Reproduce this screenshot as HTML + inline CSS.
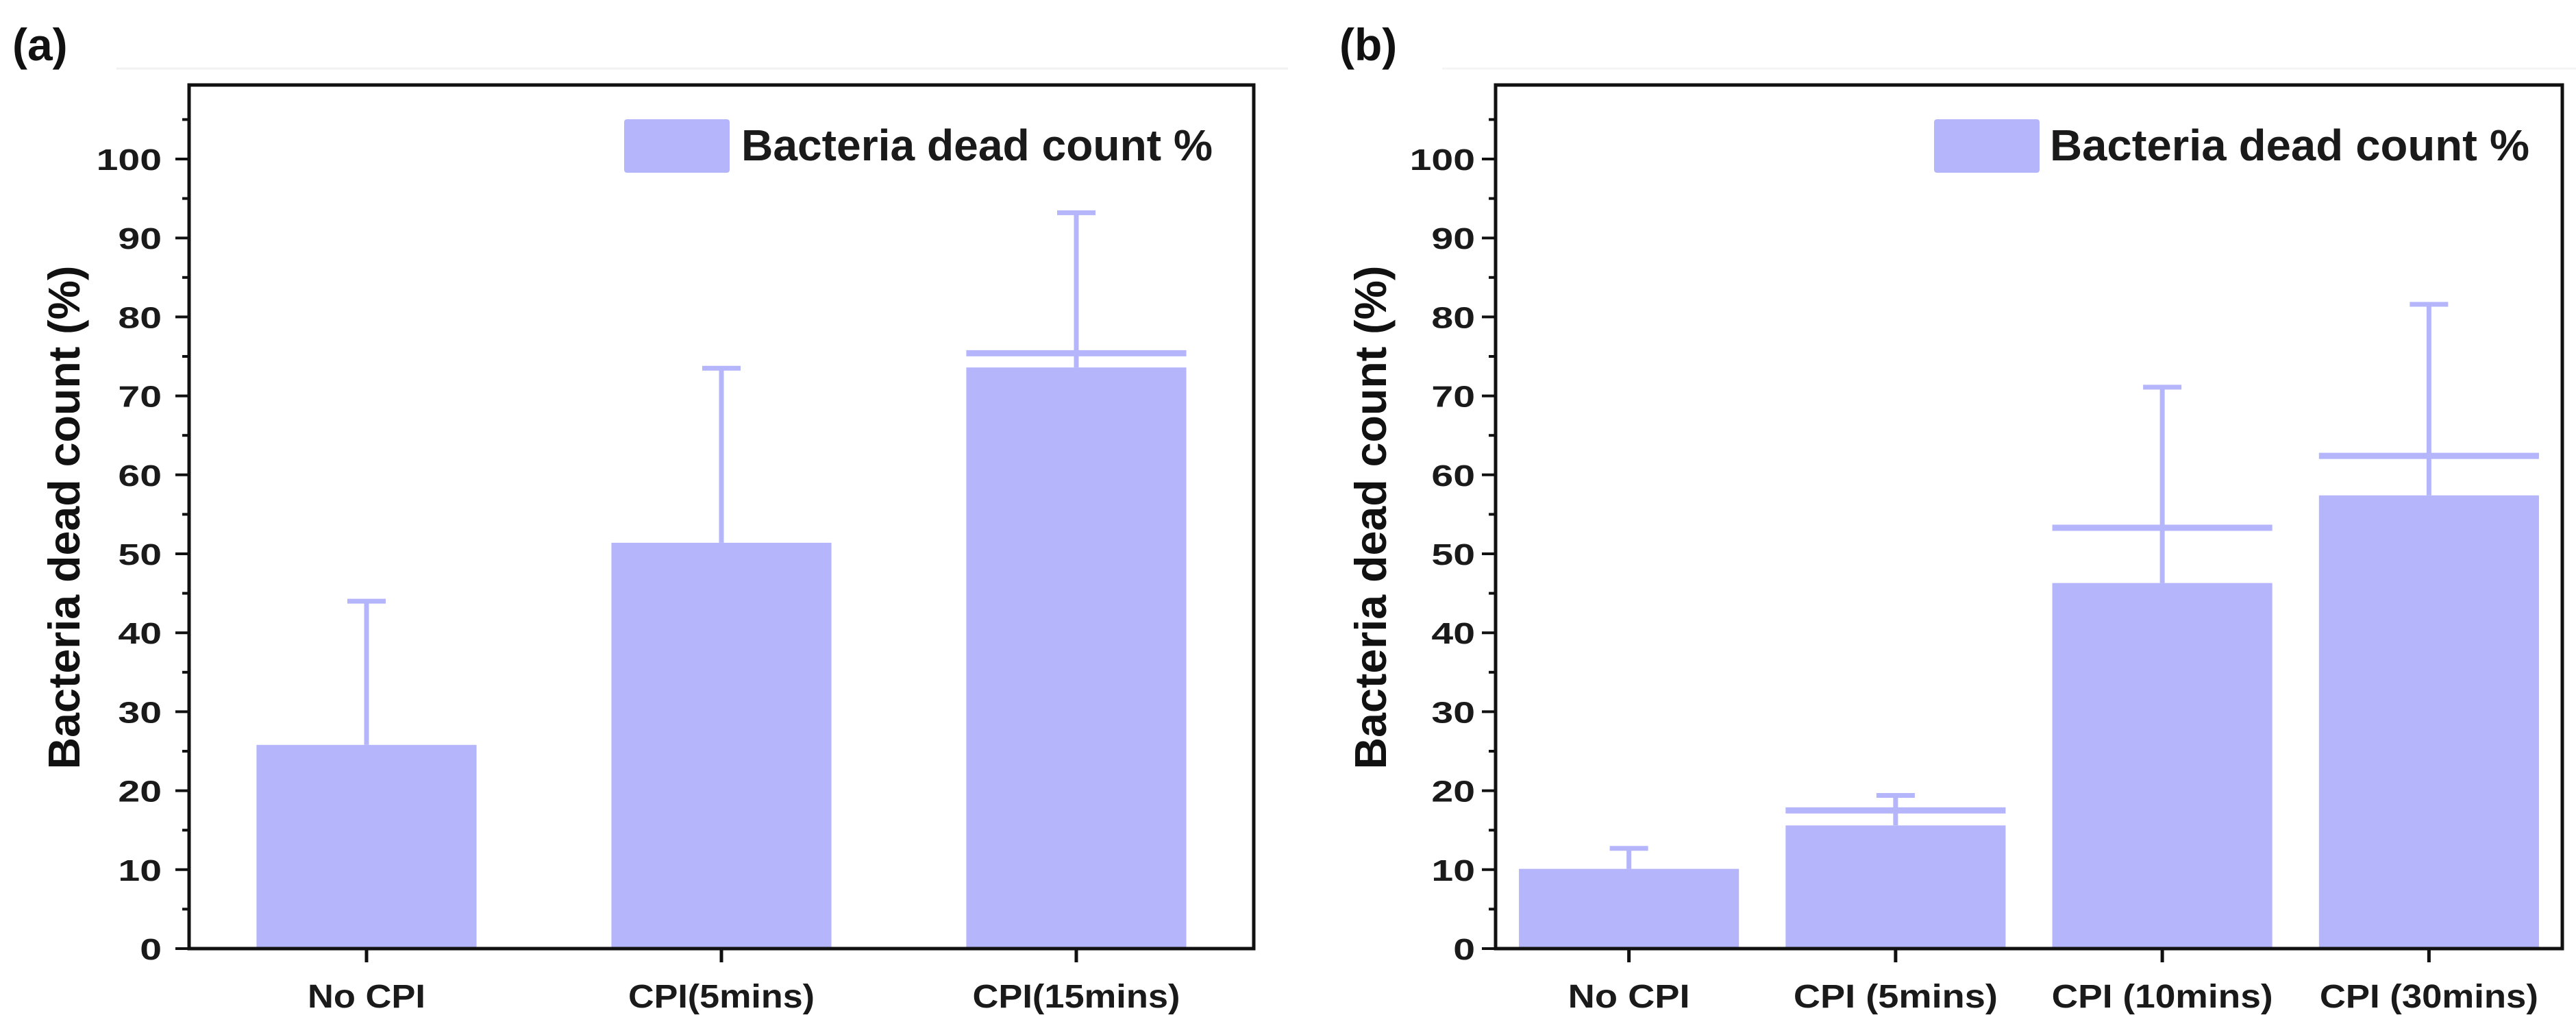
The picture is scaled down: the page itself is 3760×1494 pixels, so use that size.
<!DOCTYPE html>
<html><head><meta charset="utf-8"><style>
html,body{margin:0;padding:0;background:#fff;}
svg{display:block;font-family:"Liberation Sans",Arial,sans-serif;}
</style></head><body>
<svg id="c" width="3760" height="1494" viewBox="0 0 3760 1494" xmlns="http://www.w3.org/2000/svg"></svg>
<script>
const catsA = ["No CPI","CPI(5mins)","CPI(15mins)"];
const valsA = [25.8, 51.4, 73.6];
const errTopA = [44, 73.5, 93.2];
const meanLineA = [null, null, 75.4];
const catsB = ["No CPI","CPI (5mins)","CPI (10mins)","CPI (30mins)"];
const valsB = [10.1, 15.6, 46.3, 57.4];
const errTopB = [12.7, 19.4, 71.1, 81.6];
const meanLineB = [null, 17.5, 53.3, 62.4];
const yTicks = [0,10,20,30,40,50,60,70,80,90,100];

const NS="http://www.w3.org/2000/svg";
const svg=document.getElementById('c');
function mk(tag,attrs,parent){const e=document.createElementNS(NS,tag);for(const k in attrs)e.setAttribute(k,attrs[k]);(parent||svg).appendChild(e);return e;}
const BAR="#b5b5fc";
function stext(x,y,str,size,anchor,parent,sx,len){
  const a={transform:`translate(${x},${y}) scale(${sx},1)`,'font-size':size,'font-weight':'bold','text-anchor':anchor,fill:'#1a1a1a'};
  if(len){a.textLength=len;a.lengthAdjust='spacingAndGlyphs';}
  const t=mk('text',a,parent);
  t.textContent=str;return t;
}
function panel(id,cats,vals,errs,means,fl,fr,tickRight,legBox,legTextX,legLen,labelX,labelTxt,barW,xLens){
  const g=mk('g',{});
  
  
  const top=124,bot=1384,y0=1384,ppu=11.52;
  const ys=v=>y0-v*ppu;
  const n=cats.length,xs=i=>fl+(i+0.5)*(fr-fl)/n;
  const unit=(fr-fl)/n,bw=unit*barW;
  const lab=mk('text',{x:labelX,y:88,'font-size':66,'font-weight':'bold',fill:'#111'},g);
  lab.textContent=labelTxt;
  
  
  for(let i=0;i<n;i++){
    const cx=xs(i);
    const b=mk('rect',{x:cx-bw/2,y:ys(vals[i]),width:bw,height:y0-ys(vals[i]),fill:BAR},g);
    
    
    const e=mk('g',{stroke:BAR,'stroke-width':7},g);
    
    
    mk('line',{x1:cx,x2:cx,y1:ys(vals[i]),y2:ys(errs[i])},e);
    mk('line',{x1:cx-28,x2:cx+28,y1:ys(errs[i]),y2:ys(errs[i])},e);
    if(means[i]!==null){
      const m=mk('line',{x1:cx-bw/2,x2:cx+bw/2,y1:ys(means[i]),y2:ys(means[i]),stroke:BAR,'stroke-width':9},g);
      
      
    }
    mk('line',{x1:cx,x2:cx,y1:bot,y2:bot+20,stroke:'#111','stroke-width':5},g);
    const xl=stext(cx,1470,cats[i],48,'middle',g,1,xLens[i]);
    
    
  }
  const f=mk('rect',{x:fl,y:top,width:fr-fl,height:bot-top,fill:'none',stroke:'#111','stroke-width':5},g);
  
  
  for(let v=0;v<=105;v+=5){
    const major=v%10===0;
    mk('line',{x1:fl-(major?20:10),x2:fl,y1:ys(v),y2:ys(v),stroke:'#111','stroke-width':4},g);
  }
  yTicks.forEach(v=>{
    const t=stext(tickRight,ys(v)+16,String(v),44,'end',g,1.3);
    
    
  });
  const yt=mk('text',{transform:`translate(${fl-160},755) rotate(-90) scale(1,1.3)`,'font-size':50,'font-weight':'bold','text-anchor':'middle',fill:'#111',textLength:735,lengthAdjust:'spacingAndGlyphs'},g);
  yt.textContent='Bacteria dead count (%)';
  
  
  const lg=mk('g',{},g);
  
  
  mk('rect',{x:legBox,y:174,width:154,height:78,rx:4,fill:BAR},lg);
  stext(legTextX,234,'Bacteria dead count %',64,'start',lg,1,legLen);
}
mk('line',{x1:170,x2:1880,y1:100,y2:100,stroke:'#f2f2f2','stroke-width':3});
mk('line',{x1:2105,x2:3760,y1:100,y2:100,stroke:'#f4f4f4','stroke-width':3});
panel('a',catsA,valsA,errTopA,meanLineA,276,1830,236,911,1082,688,18,'(a)',0.62,[172,272,303]);
panel('b',catsB,valsB,errTopB,meanLineB,2183,3740,2153,2823,2992,700,1955,'(b)',0.825,[178,298,323,319]);
</script>
</body></html>
